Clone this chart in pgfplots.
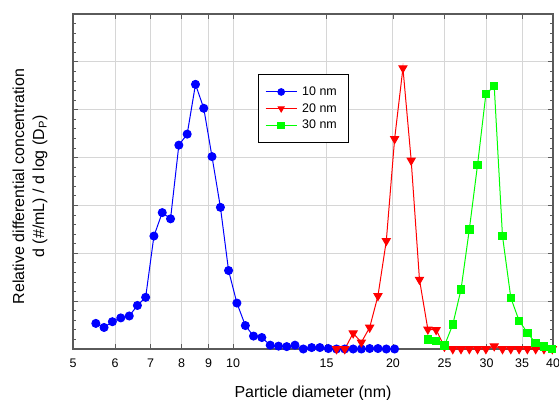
\documentclass[border=0pt]{standalone}
\usepackage{fontspec}
\setmainfont{Liberation Sans}
\usepackage{pgfplots}
\pgfplotsset{compat=1.18}
\definecolor{gridgray}{RGB}{214,214,214}
\definecolor{framegray}{RGB}{90,90,90}

\begin{document}
\begin{tikzpicture}
\path[use as bounding box] (-73bp,-51bp) rectangle (486bp,349bp);
\begin{axis}[
  at={(0,0)}, anchor=south west,
  width=480bp, height=335bp, scale only axis,
  xmode=log, xmin=5, xmax=40,
  ymin=0, ymax=7,
  xtick={5,6,7,8,9,10,15,20,25,30,35,40},
  xticklabels={5,6,7,8,9,10,15,20,25,30,35,40},
  minor xtick={},
  ytick={0,1,...,7}, yticklabels={},
  minor y tick num=4,
  tick align=inside, tick pos=both,
  major tick length=5bp, minor tick length=3bp,
  every tick/.style={framegray, line width=0.8bp},
  axis line style={framegray, line width=1.3bp},
  grid=major, major grid style={gridgray, line width=1bp},
  xticklabel style={font=\fontsize{12.5}{14}\selectfont, yshift=-6bp},
  xlabel={Particle diameter (nm)},
  xlabel style={font=\fontsize{16}{18}\selectfont, at={(axis description cs:0.5,-0.133)}, anchor=center},
  ylabel={Relative differential concentration\\d (\#/mL) / d log (D\textsubscript{P})},
  ylabel style={font=\fontsize{16}{20}\selectfont, align=center, at={(axis description cs:-0.0896,0.485)}, anchor=center},
  legend style={at={(axis description cs:0.385,0.821)}, anchor=north west, draw=black, line width=0.8bp,
    font=\fontsize{12.5}{16}\selectfont, inner xsep=7bp, inner ysep=10.5bp, row sep=2.5bp,
    cells={anchor=west}, nodes={inner xsep=5bp}},
  legend image code/.code={%
    \draw[#1, mark repeat=2, mark phase=2, mark size=3.3bp] plot coordinates {(0bp,0bp) (15.5bp,0bp) (31bp,0bp)};},
  every axis plot/.append style={line width=1bp},
  clip=false,
]
\addplot[color=blue, mark=*, mark size=4bp] coordinates {
  (5.52,0.535) (5.72,0.45) (5.93,0.57) (6.15,0.65) (6.38,0.69) (6.61,0.91)
  (6.85,1.08) (7.10,2.36) (7.36,2.85) (7.63,2.72) (7.91,4.26) (8.20,4.49)
  (8.50,5.53) (8.81,5.03) (9.13,4.02) (9.47,2.96) (9.81,1.64) (10.17,0.96)
  (10.55,0.49) (10.93,0.27) (11.33,0.24) (11.75,0.08) (12.18,0.06) (12.62,0.05)
  (13.08,0.08) (13.56,0.00) (14.06,0.03) (14.57,0.03) (15.11,0.01) (15.66,0.00)
  (16.23,0.00) (16.83,0.00) (17.44,0.00) (18.08,0.01) (18.74,0.01) (19.43,0.00)
  (20.14,0.00)
};
\addlegendentry{10 nm}
\addplot[color=red, mark=triangle*, mark size=4.6bp, mark options={rotate=180}] coordinates {
  (15.66,0.00) (16.23,0.00) (16.83,0.33) (17.44,0.14) (18.08,0.45) (18.74,1.11)
  (19.43,2.26) (20.14,4.39) (20.88,5.87) (21.64,3.94) (22.43,1.45) (23.26,0.41)
  (24.11,0.40) (24.99,0.05) (25.91,0.00) (26.85,0.00) (27.84,0.00) (28.85,0.00)
  (29.91,0.00) (31.01,0.06) (32.14,0.00) (33.32,0.00) (34.54,0.00) (35.80,0.00)
  (37.11,0.00) (38.47,0.00) (39.88,0.00)
};
\addlegendentry{20 nm}
\addplot[color=green, mark=square*, mark size=3.7bp] coordinates {
  (23.26,0.20) (24.11,0.17) (24.99,0.07) (25.91,0.51) (26.85,1.24) (27.84,2.50)
  (28.85,3.85) (29.91,5.33) (31.01,5.49) (32.14,2.36) (33.32,1.07) (34.54,0.59)
  (35.80,0.34) (37.11,0.12) (38.47,0.05) (39.88,0.00)
};
\addlegendentry{30 nm}
\end{axis}
\end{tikzpicture}
\end{document}
